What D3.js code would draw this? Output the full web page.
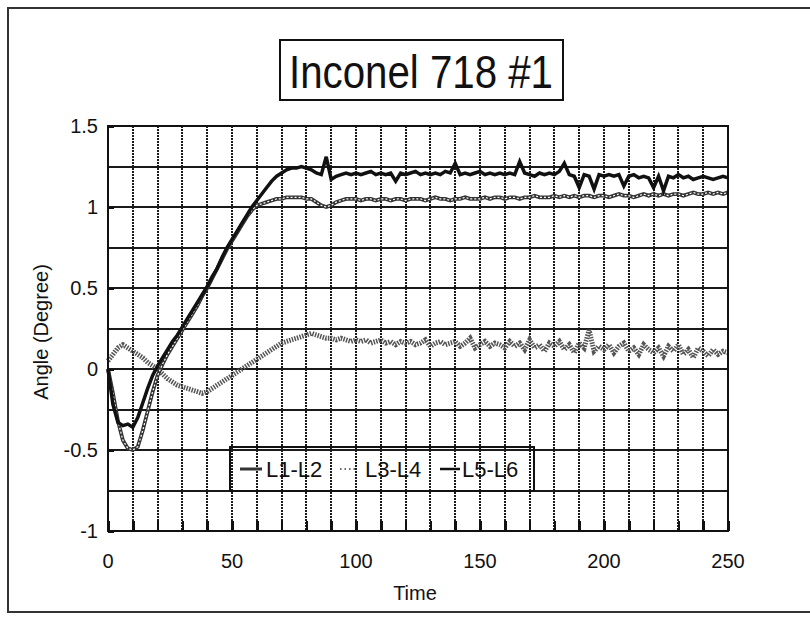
<!DOCTYPE html>
<html lang="en">
<head>
<meta charset="utf-8">
<title>Inconel 718 #1</title>
<script src="https://cdn.jsdelivr.net/npm/d3@7"></script>
<style>
  body { margin: 0; background: #fff; }
  svg text { font-family: "Liberation Sans", Arial, sans-serif; fill: #111; }
  .grid line, .frame { shape-rendering: crispEdges; }
</style>
</head>
<body>
<script>
// sample times (shared by all three series)
var time = [
  0, 2, 4, 6, 8, 10, 12, 14, 16, 18,
  20, 22, 24, 26, 28, 30, 32, 34, 36, 38,
  40, 42, 44, 46, 48, 50, 52, 54, 56, 58,
  60, 62, 64, 66, 68, 70, 72, 74, 76, 78,
  80, 82, 84, 86, 88, 90, 92, 94, 96, 98,
  100, 102, 104, 106, 108, 110, 112, 114, 116, 118,
  120, 122, 124, 126, 128, 130, 132, 134, 136, 138,
  140, 142, 144, 146, 148, 150, 152, 154, 156, 158,
  160, 162, 164, 166, 168, 170, 172, 174, 176, 178,
  180, 182, 184, 186, 188, 190, 192, 194, 196, 198,
  200, 202, 204, 206, 208, 210, 212, 214, 216, 218,
  220, 222, 224, 226, 228, 230, 232, 234, 236, 238,
  240, 242, 244, 246, 248, 250
];

var l1l2 = [
  0.00, -0.15, -0.32, -0.44, -0.49, -0.50, -0.48, -0.38, -0.26, -0.14,
  -0.04, 0.03, 0.09, 0.14, 0.19, 0.24, 0.29, 0.34, 0.39, 0.45,
  0.50, 0.56, 0.62, 0.68, 0.74, 0.79, 0.84, 0.89, 0.94, 0.98,
  1.01, 1.02, 1.03, 1.04, 1.05, 1.05, 1.06, 1.06, 1.06, 1.06,
  1.05, 1.05, 1.03, 1.01, 1.00, 1.01, 1.03, 1.04, 1.05, 1.05,
  1.05, 1.04, 1.05, 1.05, 1.04, 1.05, 1.05, 1.04, 1.05, 1.05,
  1.04, 1.05, 1.05, 1.05, 1.04, 1.05, 1.06, 1.05, 1.05, 1.04,
  1.05, 1.05, 1.06, 1.05, 1.05, 1.05, 1.06, 1.05, 1.06, 1.06,
  1.05, 1.06, 1.06, 1.05, 1.06, 1.06, 1.07, 1.06, 1.06, 1.06,
  1.07, 1.06, 1.07, 1.06, 1.07, 1.06, 1.07, 1.07, 1.06, 1.07,
  1.07, 1.06, 1.07, 1.08, 1.07, 1.07, 1.06, 1.07, 1.08, 1.07,
  1.08, 1.07, 1.08, 1.07, 1.08, 1.08, 1.07, 1.08, 1.09, 1.08,
  1.08, 1.09, 1.08, 1.09, 1.08, 1.09
];

var l3l4 = [
  0.05, 0.09, 0.13, 0.15, 0.13, 0.11, 0.09, 0.07, 0.04, 0.02,
  0.00, -0.03, -0.06, -0.08, -0.10, -0.11, -0.12, -0.13, -0.14, -0.15,
  -0.14, -0.12, -0.10, -0.08, -0.06, -0.04, -0.02, 0.00, 0.02, 0.04,
  0.06, 0.08, 0.10, 0.12, 0.14, 0.16, 0.17, 0.18, 0.19, 0.20,
  0.21, 0.22, 0.21, 0.20, 0.19, 0.19, 0.18, 0.19, 0.18, 0.17,
  0.18, 0.17, 0.18, 0.16, 0.17, 0.18, 0.16, 0.17, 0.15, 0.17,
  0.16, 0.17, 0.15, 0.16, 0.18, 0.14, 0.16, 0.17, 0.15, 0.16,
  0.17, 0.14, 0.16, 0.19, 0.13, 0.15, 0.17, 0.14, 0.16, 0.15,
  0.13, 0.17, 0.14, 0.16, 0.12, 0.18, 0.13, 0.15, 0.11, 0.16,
  0.14, 0.17, 0.12, 0.15, 0.10, 0.16, 0.13, 0.24, 0.11, 0.14,
  0.12, 0.15, 0.10, 0.14, 0.16, 0.11, 0.13, 0.09, 0.15, 0.12,
  0.10, 0.13, 0.08, 0.14, 0.11, 0.15, 0.09, 0.12, 0.07, 0.13,
  0.11, 0.08, 0.12, 0.09, 0.11, 0.10
];

var l5l6 = [
  0.00, -0.22, -0.33, -0.35, -0.34, -0.36, -0.30, -0.21, -0.12, -0.04,
  0.02, 0.07, 0.12, 0.17, 0.21, 0.26, 0.31, 0.36, 0.41, 0.46,
  0.51, 0.57, 0.62, 0.69, 0.75, 0.80, 0.85, 0.90, 0.95, 1.00,
  1.04, 1.08, 1.12, 1.16, 1.19, 1.21, 1.23, 1.24, 1.24, 1.25,
  1.24, 1.23, 1.21, 1.20, 1.31, 1.17, 1.19, 1.20, 1.21, 1.20,
  1.21, 1.20, 1.21, 1.22, 1.20, 1.21, 1.20, 1.21, 1.16, 1.21,
  1.20, 1.21, 1.22, 1.20, 1.21, 1.20, 1.21, 1.20, 1.22, 1.21,
  1.27, 1.20, 1.21, 1.20, 1.21, 1.22, 1.20, 1.21, 1.20, 1.21,
  1.20, 1.21, 1.20, 1.28, 1.21, 1.20, 1.19, 1.21, 1.20, 1.21,
  1.20, 1.22, 1.27, 1.20, 1.19, 1.12, 1.20, 1.19, 1.11, 1.20,
  1.19, 1.20, 1.19, 1.20, 1.13, 1.19, 1.20, 1.18, 1.19, 1.18,
  1.12, 1.19, 1.10, 1.19, 1.18, 1.20, 1.18, 1.19, 1.17, 1.18,
  1.19, 1.18, 1.17, 1.18, 1.19, 1.18
];

var xTicks = [0, 50, 100, 150, 200, 250];
var yTicks = [-1, -0.5, 0, 0.5, 1, 1.5];
var seriesNames = ["L1-L2", "L3-L4", "L5-L6"];

var w = 810, h = 621;
var plotL = 108, plotR = 728, plotT = 126, plotB = 531;

var svg = d3.select("body").append("svg")
  .attr("width", w)
  .attr("height", h);

// outer frame (right side runs off the page)
svg.append("rect")
  .attr("class", "frame")
  .attr("x", 8).attr("y", 8)
  .attr("width", 820).attr("height", 604)
  .attr("fill", "none")
  .attr("stroke", "#333")
  .attr("stroke-width", 2);

// title box
svg.append("rect")
  .attr("class", "frame")
  .attr("x", 280).attr("y", 40)
  .attr("width", 283).attr("height", 60)
  .attr("fill", "none")
  .attr("stroke", "#111")
  .attr("stroke-width", 2);
svg.append("text")
  .attr("x", 289).attr("y", 88)
  .attr("font-size", 46)
  .attr("textLength", 264)
  .attr("lengthAdjust", "spacingAndGlyphs")
  .text("Inconel 718 #1");

var x = d3.scaleLinear().domain([0, 250]).range([plotL, plotR]);
var y = d3.scaleLinear().domain([-1, 1.5]).range([plotB, plotT]);

// horizontal grid (solid)
svg.append("g")
  .attr("class", "grid")
  .selectAll("line")
  .data(d3.range(-0.75, 1.5, 0.25))
  .enter().append("line")
  .attr("x1", plotL).attr("x2", plotR)
  .attr("y1", function(d) { return Math.round(y(d)); })
  .attr("y2", function(d) { return Math.round(y(d)); })
  .attr("stroke", "#1a1a1a")
  .attr("stroke-width", 2);

// vertical grid (dotted)
svg.append("g")
  .attr("class", "grid")
  .selectAll("line")
  .data(d3.range(10, 250, 10))
  .enter().append("line")
  .attr("x1", function(d) { return Math.round(x(d)); })
  .attr("x2", function(d) { return Math.round(x(d)); })
  .attr("y1", plotT).attr("y2", plotB)
  .attr("stroke", "#1a1a1a")
  .attr("stroke-width", 2)
  .attr("stroke-dasharray", "2,1");

// x axis: inner ticks every 10
var xAxis = d3.axisBottom(x)
  .tickValues(d3.range(0, 251, 10))
  .tickSize(-10)
  .tickFormat("");
svg.append("g")
  .attr("class", "grid")
  .attr("transform", "translate(0," + plotB + ")")
  .call(xAxis)
  .call(function(g) {
    g.select(".domain").remove();
    g.selectAll("line").attr("stroke", "#111").attr("stroke-width", 2.5);
  });

// y axis: small inner ticks
var yAxis = d3.axisLeft(y)
  .tickValues(yTicks)
  .tickSize(-6)
  .tickFormat("");
svg.append("g")
  .attr("class", "grid")
  .attr("transform", "translate(" + plotL + ",0)")
  .call(yAxis)
  .call(function(g) {
    g.select(".domain").remove();
    g.selectAll("line").attr("stroke", "#111").attr("stroke-width", 2);
  });

// tick labels
svg.append("g").selectAll("text")
  .data(xTicks)
  .enter().append("text")
  .attr("x", function(d) { return x(d); })
  .attr("y", 568)
  .attr("text-anchor", "middle")
  .attr("font-size", 20)
  .text(function(d) { return d; });

svg.append("g").selectAll("text")
  .data(yTicks)
  .enter().append("text")
  .attr("x", 98)
  .attr("y", function(d) { return y(d) + 7; })
  .attr("text-anchor", "end")
  .attr("font-size", 20)
  .text(function(d) { return d; });

// axis titles
svg.append("text")
  .attr("x", 415).attr("y", 600)
  .attr("text-anchor", "middle")
  .attr("font-size", 20)
  .text("Time");
svg.append("text")
  .attr("transform", "translate(48,332) rotate(-90)")
  .attr("text-anchor", "middle")
  .attr("font-size", 20)
  .text("Angle (Degree)");

// series
var line = d3.line()
  .x(function(d) { return x(d[0]); })
  .y(function(d) { return y(d[1]); });

function pairs(vals) {
  return time.map(function(t, i) { return [t, vals[i]]; });
}

var plot = svg.append("g");

// L3-L4: gray dotted band
plot.append("path")
  .datum(pairs(l3l4))
  .attr("d", line)
  .attr("fill", "none")
  .attr("stroke", "#555")
  .attr("stroke-width", 5)
  .attr("stroke-dasharray", "1.5,1.2");

// L1-L2: outlined chain
plot.append("path")
  .datum(pairs(l1l2))
  .attr("d", line)
  .attr("fill", "none")
  .attr("stroke", "#333")
  .attr("stroke-width", 3.8);
plot.append("path")
  .datum(pairs(l1l2))
  .attr("d", line)
  .attr("fill", "none")
  .attr("stroke", "#fff")
  .attr("stroke-width", 1.2)
  .attr("stroke-dasharray", "2,2");

// L5-L6: solid black
plot.append("path")
  .datum(pairs(l5l6))
  .attr("d", line)
  .attr("fill", "none")
  .attr("stroke", "#111")
  .attr("stroke-width", 3.5);

// plot frame
svg.append("rect")
  .attr("class", "frame")
  .attr("x", plotL).attr("y", plotT)
  .attr("width", plotR - plotL).attr("height", plotB - plotT)
  .attr("fill", "none")
  .attr("stroke", "#111")
  .attr("stroke-width", 2.5);

// legend (transparent box)
var legend = svg.append("g");
legend.append("rect")
  .attr("class", "frame")
  .attr("x", 230).attr("y", 447)
  .attr("width", 304).attr("height", 44)
  .attr("fill", "none")
  .attr("stroke", "#111")
  .attr("stroke-width", 2);

var legX = [240, 340, 440];
var legTextX = [266, 365, 462];
legend.append("line")
  .attr("x1", legX[0]).attr("x2", legX[0] + 22)
  .attr("y1", 469).attr("y2", 469)
  .attr("stroke", "#333").attr("stroke-width", 3);
legend.append("line")
  .attr("x1", legX[1]).attr("x2", legX[1] + 16)
  .attr("y1", 469).attr("y2", 469)
  .attr("stroke", "#666").attr("stroke-width", 2)
  .attr("stroke-dasharray", "1.5,3");
legend.append("line")
  .attr("x1", legX[2]).attr("x2", legX[2] + 20)
  .attr("y1", 469).attr("y2", 469)
  .attr("stroke", "#111").attr("stroke-width", 2.5);

legend.selectAll("text.leg")
  .data(seriesNames)
  .enter().append("text")
  .attr("class", "leg")
  .attr("x", function(d, i) { return legTextX[i]; })
  .attr("y", 477)
  .attr("font-size", 22)
  .text(function(d) { return d; });
</script>
</body>
</html>
